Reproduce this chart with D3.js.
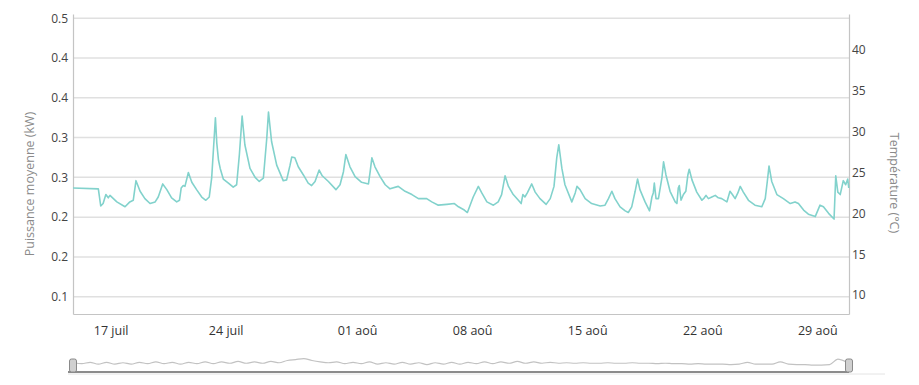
<!DOCTYPE html>
<html>
<head>
<meta charset="utf-8">
<script src="https://cdn.jsdelivr.net/npm/d3@7"></script>
<style>
  body { margin: 0; background: #fff; }
  svg { display: block; font-family: "Open Sans", sans-serif; }
</style>
</head>
<body>
<div id="chart"></div>
<script>
// Temperature readings (°C)
const times = [
  "07-14 17:00","07-16 06:00","07-16 09:30","07-16 13:00","07-16 17:00","07-16 20:30","07-16 23:00","07-17 04:00","07-17 09:00","07-17 21:00",
  "07-18 04:00","07-18 09:00","07-18 13:00","07-18 19:00","07-19 02:00","07-19 09:30","07-19 17:00","07-19 21:30","07-20 04:00","07-20 10:00",
  "07-20 17:00","07-21 00:30","07-21 04:30","07-21 07:00","07-21 10:00","07-21 12:30","07-21 17:30","07-21 22:30","07-22 05:30","07-22 13:00",
  "07-22 19:00","07-23 00:00","07-23 03:30","07-23 09:00","07-23 11:00","07-23 13:30","07-23 16:00","07-23 20:30","07-24 04:00","07-24 11:00",
  "07-24 16:00","07-24 20:00","07-25 00:00","07-25 04:00","07-25 11:30","07-25 19:00","07-26 01:00","07-26 07:00","07-26 12:00","07-26 14:30",
  "07-26 19:00","07-27 02:30","07-27 12:00","07-27 17:00","07-27 22:00","07-28 00:30","07-28 05:00","07-28 10:00","07-28 17:30","07-29 00:30",
  "07-29 05:30","07-29 10:30","07-29 16:30","07-29 21:00","07-30 06:00","07-30 17:00","07-30 23:00","07-31 04:00","07-31 07:30","07-31 13:30",
  "07-31 21:00","08-01 06:30","08-01 16:30","08-01 19:00","08-01 21:30","08-02 02:00","08-02 09:30","08-02 17:00","08-03 00:00","08-03 12:00",
  "08-03 22:00","08-04 08:00","08-04 17:30","08-05 05:30","08-05 13:00","08-05 22:30","08-06 11:00","08-06 22:00","08-07 04:00","08-07 12:30",
  "08-07 17:00","08-08 01:30","08-08 09:00","08-08 14:00","08-08 21:30","08-09 07:00","08-09 14:00","08-09 19:00","08-10 00:00","08-10 05:00",
  "08-10 12:00","08-10 19:30","08-10 23:30","08-11 02:00","08-11 05:00","08-11 08:30","08-11 15:00","08-11 20:00","08-12 03:00","08-12 12:00",
  "08-12 18:00","08-12 23:30","08-13 03:30","08-13 06:30","08-13 11:00","08-13 15:30","08-14 01:30","08-14 06:30","08-14 09:00","08-14 13:30",
  "08-14 21:00","08-15 06:30","08-15 19:00","08-16 02:00","08-16 07:00","08-16 12:00","08-16 16:30","08-17 00:00","08-17 07:30","08-17 12:00",
  "08-17 17:00","08-17 22:00","08-18 01:30","08-18 05:00","08-18 12:30","08-18 19:00","08-18 22:30","08-19 00:30","08-19 02:00","08-19 04:30",
  "08-19 08:00","08-19 13:00","08-19 15:30","08-19 19:00","08-20 01:00","08-20 08:30","08-20 11:00","08-20 13:00","08-20 14:30","08-20 17:00",
  "08-20 20:30","08-21 00:00","08-21 03:00","08-21 05:00","08-21 09:00","08-21 16:00","08-21 23:30","08-22 03:00","08-22 05:30","08-22 09:00",
  "08-22 14:00","08-22 19:00","08-22 23:30","08-23 04:30","08-23 12:00","08-23 16:30","08-23 20:00","08-24 00:00","08-24 04:00","08-24 07:30",
  "08-24 12:00","08-24 19:30","08-25 05:00","08-25 15:00","08-25 20:00","08-25 23:00","08-26 01:30","08-26 05:30","08-26 13:00","08-26 22:30",
  "08-27 08:30","08-27 15:30","08-27 20:30","08-28 04:00","08-28 11:00","08-28 21:00","08-29 04:00","08-29 09:00","08-29 16:30","08-30 00:30",
  "08-30 03:00","08-30 06:00","08-30 09:30","08-30 14:00","08-30 17:30","08-30 20:30","08-30 22:00"
];
const temps = [
  23.1,23.0,20.9,21.2,22.3,21.9,22.2,21.8,21.4,20.8,
  21.4,21.6,24.0,22.7,21.8,21.2,21.4,22.0,23.6,22.9,
  21.9,21.4,21.6,23.1,23.4,23.3,25.0,23.8,22.9,22.0,
  21.6,22.0,24.3,31.7,28.6,26.5,25.5,24.2,23.7,23.2,
  23.5,27.2,31.9,28.4,25.5,24.4,23.9,24.3,29.2,32.4,
  28.8,25.9,24.0,24.1,25.9,26.9,26.8,25.7,24.7,23.7,
  23.4,23.9,25.3,24.6,23.9,22.9,23.5,25.1,27.2,25.7,
  24.5,23.8,23.6,25.1,26.8,25.7,24.5,23.5,23.0,23.3,
  22.7,22.3,21.8,21.8,21.4,21.0,21.1,21.2,20.8,20.4,
  20.1,22.0,23.3,22.5,21.4,21.0,21.4,22.3,24.6,23.3,
  22.3,21.6,21.2,22.3,22.0,22.5,23.6,22.6,21.8,21.1,
  21.8,23.3,26.8,28.4,25.5,23.5,21.4,22.5,23.3,22.9,
  21.8,21.2,20.9,21.0,21.8,22.7,21.8,20.8,20.3,20.1,
  20.8,22.7,24.2,22.9,21.4,20.3,22.0,22.5,23.7,21.8,
  21.8,24.3,26.3,24.7,22.7,21.4,21.2,23.1,23.4,21.6,
  22.3,22.7,24.7,25.4,24.1,22.6,21.6,21.9,22.2,21.8,
  22.0,22.2,21.9,21.8,21.4,22.7,22.3,21.8,22.5,23.3,
  22.6,21.6,21.0,20.8,21.8,23.9,25.8,23.9,22.3,21.8,
  21.2,21.4,21.2,20.4,19.9,19.6,21.0,20.8,20.0,19.3,
  24.6,22.6,22.3,24.0,23.5,24.2,23.1
];

// navigator series (kW), one reading every 12 h from 14 juil 18:00
const navStart = "07-14 18:00";
const navValues = [
  0.28,0.26,0.29,0.25,0.29,0.25,0.28,0.25,0.29,0.26,0.30,0.26,0.29,0.25,0.29,0.26,0.30,0.26,0.30,0.27,
  0.31,0.27,0.30,0.27,0.31,0.28,0.33,0.35,0.37,0.33,0.30,0.28,0.30,0.26,0.29,0.26,0.30,0.25,0.28,0.25,
  0.29,0.25,0.28,0.24,0.28,0.25,0.29,0.25,0.29,0.26,0.30,0.26,0.30,0.27,0.31,0.27,0.30,0.27,0.29,0.27,
  0.28,0.27,0.28,0.27,0.27,0.28,0.27,0.27,0.28,0.27,0.27,0.26,0.27,0.26,0.26,0.25,0.26,0.25,0.25,0.25,
  0.24,0.25,0.29,0.25,0.25,0.25,0.30,0.25,0.24,0.24,0.23,0.23,0.24,0.36,0.30
];

// axes
const xDomain = ["07-14 17:00", "08-30 22:20"];
const xTickDates = ["07-17 00:00","07-24 00:00","08-01 00:00","08-08 00:00","08-15 00:00","08-22 00:00","08-29 00:00"];
const xTickLabels = ["17 juil","24 juil","01 aoû","08 aoû","15 aoû","22 aoû","29 aoû"];
const leftTicks = [0.1, 0.15, 0.2, 0.25, 0.3, 0.35, 0.4, 0.45];
const leftTickLabels = ["0.1","0.2","0.2","0.3","0.3","0.4","0.4","0.5"];
const rightTicks = [10, 15, 20, 25, 30, 35, 40];
const leftTitle = "Puissance moyenne (kW)";
const rightTitle = "Température (°C)";

const width = 919;
const height = 385;
const margin = {top: 14, right: 70, bottom: 71, left: 73};
const parse = s => d3.timeParse("%Y-%m-%d %H:%M")("2023-" + s);

const svg = d3.select("#chart")
    .append("svg")
    .attr("width", width)
    .attr("height", height);

const x = d3.scaleTime()
    .domain(xDomain.map(parse))
    .range([margin.left, width - margin.right]);

const yLeft = d3.scaleLinear()
    .domain([0.0782, 0.4554])
    .range([height - margin.bottom, margin.top]);

const yRight = d3.scaleLinear()
    .domain([7.673, 44.41])
    .range([height - margin.bottom, margin.top]);

// grid lines (left axis ticks)
svg.append("g")
    .selectAll("line")
    .data(leftTicks)
    .enter().append("line")
    .attr("x1", margin.left)
    .attr("x2", width - margin.right)
    .attr("y1", d => yLeft(d))
    .attr("y2", d => yLeft(d))
    .attr("stroke", "#e0e0e0")
    .attr("stroke-width", 1.5);

// left axis
const leftAxis = svg.append("g")
    .attr("transform", `translate(${margin.left},0)`)
    .call(d3.axisLeft(yLeft)
        .tickValues(leftTicks)
        .tickFormat((d, i) => leftTickLabels[i])
        .tickSize(0)
        .tickPadding(5));

// right axis
const rightAxis = svg.append("g")
    .attr("transform", `translate(${width - margin.right},0)`)
    .call(d3.axisRight(yRight)
        .tickValues(rightTicks)
        .tickFormat(d3.format("d"))
        .tickSize(0)
        .tickPadding(3));

// bottom axis
const bottomAxis = svg.append("g")
    .attr("transform", `translate(0,${height - margin.bottom})`)
    .call(d3.axisBottom(x)
        .tickValues(xTickDates.map(parse))
        .tickFormat((d, i) => xTickLabels[i])
        .tickSize(0)
        .tickPadding(12));

[leftAxis, rightAxis, bottomAxis].forEach(g => {
    g.select(".domain").attr("stroke", "#c4c4c4").attr("stroke-width", 1.2);
    g.selectAll("text").attr("fill", "#444").attr("font-size", 12)
        .attr("font-family", "'Open Sans', sans-serif");
});
bottomAxis.selectAll("text").attr("font-size", 12.5).attr("fill", "#333");

// axis titles
svg.append("text")
    .attr("transform", `translate(34,${(margin.top + height - margin.bottom) / 2 + 20}) rotate(-90)`)
    .attr("text-anchor", "middle")
    .attr("fill", "#8a8a8a")
    .attr("font-size", 12.5)
    .text(leftTitle);

svg.append("text")
    .attr("transform", `translate(890,${(margin.top + height - margin.bottom) / 2 + 19}) rotate(90)`)
    .attr("text-anchor", "middle")
    .attr("fill", "#8a8a8a")
    .attr("font-size", 12.5)
    .text(rightTitle);

// temperature line
const data = times.map((t, i) => ({date: parse(t), value: temps[i]}));
const line = d3.line()
    .x(d => x(d.date))
    .y(d => yRight(d.value));

svg.append("path")
    .datum(data)
    .attr("fill", "none")
    .attr("stroke", "#82d2cc")
    .attr("stroke-width", 1.6)
    .attr("stroke-linejoin", "round")
    .attr("d", line);

// navigator
const navY = d3.scaleLinear().domain([0.1, 0.45]).range([371, 355]);
const navData = navValues.map((v, i) => ({date: d3.timeHour.offset(parse(navStart), i * 12), value: v}));

svg.append("line")
    .attr("x1", margin.left - 5).attr("x2", 885)
    .attr("y1", 374).attr("y2", 374)
    .attr("stroke", "#e4e4e4").attr("stroke-width", 1);

svg.append("path")
    .datum(navData)
    .attr("fill", "none")
    .attr("stroke", "#c2c2c2")
    .attr("stroke-width", 1.2)
    .attr("d", d3.line().curve(d3.curveMonotoneX)
        .x(d => x(d.date))
        .y(d => navY(d.value)));

svg.append("line")
    .attr("x1", margin.left - 5).attr("x2", width - margin.right)
    .attr("y1", 372).attr("y2", 372)
    .attr("stroke", "#8c8c8c").attr("stroke-width", 2);

// navigator handles
svg.append("g")
    .selectAll("rect")
    .data(x.domain())
    .enter().append("rect")
    .attr("x", d => x(d) - 3.5)
    .attr("y", 359)
    .attr("width", 7)
    .attr("height", 13)
    .attr("rx", 2)
    .attr("fill", "#d0d0d0")
    .attr("stroke", "#8a8a8a")
    .attr("stroke-width", 1);
</script>
</body>
</html>
